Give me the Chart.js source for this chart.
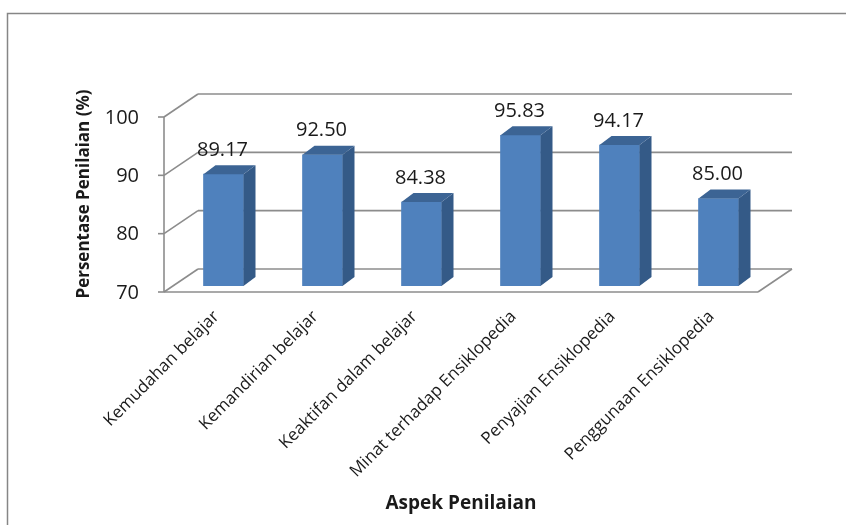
<!DOCTYPE html>
<html>
<head>
<meta charset="utf-8">
<script src="https://cdn.jsdelivr.net/npm/chart.js@4.4.1/dist/chart.umd.min.js"></script>
<style>
  html, body { margin: 0; padding: 0; background: #fff; }
  #chart-box { width: 846px; height: 525px; }
</style>
</head>
<body>
<div id="chart-box"><canvas id="aspek-chart" width="846" height="525"></canvas></div>
<script>
const categories = [
  'Kemudahan belajar',
  'Kemandirian belajar',
  'Keaktifan dalam belajar',
  'Minat terhadap Ensiklopedia',
  'Penyajian Ensiklopedia',
  'Penggunaan Ensiklopedia',
];
const persentase = [89.17, 92.50, 84.38, 95.83, 94.17, 85.00];
const yTicks = [70, 80, 90, 100];

const FONT = '"Open Sans", sans-serif';
const GRID = '#8c8c8c';

// offsets of the front edge and the back wall from the plane the bars stand in
const FRONT = { dx: -10, dy: 6 };
const BACK = { dx: 24, dy: -17 };
// bar depth (side + top faces)
const BAR_DEPTH = { dx: 12, dy: -9 };

const line = (ctx, x1, y1, x2, y2) => {
  ctx.beginPath();
  ctx.moveTo(x1, y1);
  ctx.lineTo(x2, y2);
  ctx.stroke();
};

const box3d = {
  id: 'box3d',
  beforeDatasetsDraw(chart) {
    const { ctx, chartArea } = chart;
    const y = chart.scales.y;
    const left = chartArea.left, right = chartArea.right;
    ctx.save();
    ctx.strokeStyle = GRID;
    ctx.lineWidth = 1.6;

    // back wall gridlines + left side wall diagonals
    yTicks.forEach((v) => {
      const py = y.getPixelForValue(v);
      line(ctx, left + BACK.dx, py + BACK.dy, right + BACK.dx, py + BACK.dy);
      line(ctx, left + FRONT.dx, py + FRONT.dy, left + BACK.dx, py + BACK.dy);
    });

    // floor
    const base = y.getPixelForValue(yTicks[0]);
    line(ctx, left + FRONT.dx, base + FRONT.dy, right + FRONT.dx, base + FRONT.dy);
    line(ctx, right + FRONT.dx, base + FRONT.dy, right + BACK.dx, base + BACK.dy);

    // vertical axis at the front edge, with tick marks
    const top = y.getPixelForValue(yTicks[yTicks.length - 1]);
    line(ctx, left + FRONT.dx, top + FRONT.dy, left + FRONT.dx, base + FRONT.dy);
    yTicks.forEach((v) => {
      const py = y.getPixelForValue(v) + FRONT.dy;
      line(ctx, left + FRONT.dx - 6, py, left + FRONT.dx, py);
    });
    ctx.restore();
  },
  afterDatasetsDraw(chart) {
    const { ctx } = chart;
    const y = chart.scales.y;
    const bars = chart.getDatasetMeta(0).data;
    ctx.save();

    bars.forEach((bar, i) => {
      const l = bar.x - bar.width / 2, r = bar.x + bar.width / 2;
      const t = bar.y, b = bar.base;

      // side face
      ctx.fillStyle = '#345a87';
      ctx.beginPath();
      ctx.moveTo(r, t);
      ctx.lineTo(r + BAR_DEPTH.dx, t + BAR_DEPTH.dy);
      ctx.lineTo(r + BAR_DEPTH.dx, b + BAR_DEPTH.dy);
      ctx.lineTo(r, b);
      ctx.closePath();
      ctx.fill();

      // top face
      ctx.fillStyle = '#3c6494';
      ctx.beginPath();
      ctx.moveTo(l, t);
      ctx.lineTo(l + BAR_DEPTH.dx, t + BAR_DEPTH.dy);
      ctx.lineTo(r + BAR_DEPTH.dx, t + BAR_DEPTH.dy);
      ctx.lineTo(r, t);
      ctx.closePath();
      ctx.fill();

      // value label
      ctx.fillStyle = '#1a1a1a';
      ctx.font = '20px ' + FONT;
      ctx.textAlign = 'center';
      ctx.textBaseline = 'middle';
      ctx.fillText(persentase[i].toFixed(2), bar.x - 1, t - 24);

      // category label, rotated
      ctx.save();
      ctx.translate(bar.x - 7, b + 28);
      ctx.rotate(-Math.PI / 4);
      ctx.font = '17px ' + FONT;
      ctx.textAlign = 'right';
      ctx.fillText(categories[i], 0, 0);
      ctx.restore();
    });

    // y tick labels
    const left = chart.chartArea.left;
    ctx.fillStyle = '#1a1a1a';
    ctx.font = '20px ' + FONT;
    ctx.textAlign = 'right';
    ctx.textBaseline = 'middle';
    yTicks.forEach((v) => {
      ctx.fillText(String(v), left + FRONT.dx - 25, y.getPixelForValue(v) + FRONT.dy + 1);
    });

    // axis titles
    ctx.font = 'bold 17px ' + FONT;
    ctx.textAlign = 'center';
    ctx.save();
    ctx.translate(84, 194);
    ctx.rotate(-Math.PI / 2);
    ctx.fillText('Persentase Penilaian (%)', 0, 0);
    ctx.restore();
    ctx.font = 'bold 19px ' + FONT;
    ctx.fillText('Aspek Penilaian', 461, 504);

    // chart border
    ctx.strokeStyle = '#868686';
    ctx.lineWidth = 1.5;
    ctx.strokeRect(7.5, 13.5, 900, 600);
    ctx.restore();
  },
};

new Chart(document.getElementById('aspek-chart').getContext('2d'), {
  type: 'bar',
  data: {
    labels: categories,
    datasets: [
      {
        label: 'Persentase Penilaian (%)',
        data: persentase,
        base: yTicks[0],
        backgroundColor: '#4f81bd',
        borderWidth: 0,
        barThickness: 40,
      },
    ],
  },
  options: {
    responsive: false,
    animation: false,
    devicePixelRatio: 1,
    layout: {
      padding: { left: 174, right: 78, top: 111, bottom: 239 },
    },
    scales: {
      x: { display: false },
      y: { display: false, min: 70, max: 100 },
    },
    plugins: {
      legend: { display: false },
      tooltip: { enabled: false },
    },
  },
  plugins: [box3d],
});
</script>
</body>
</html>
